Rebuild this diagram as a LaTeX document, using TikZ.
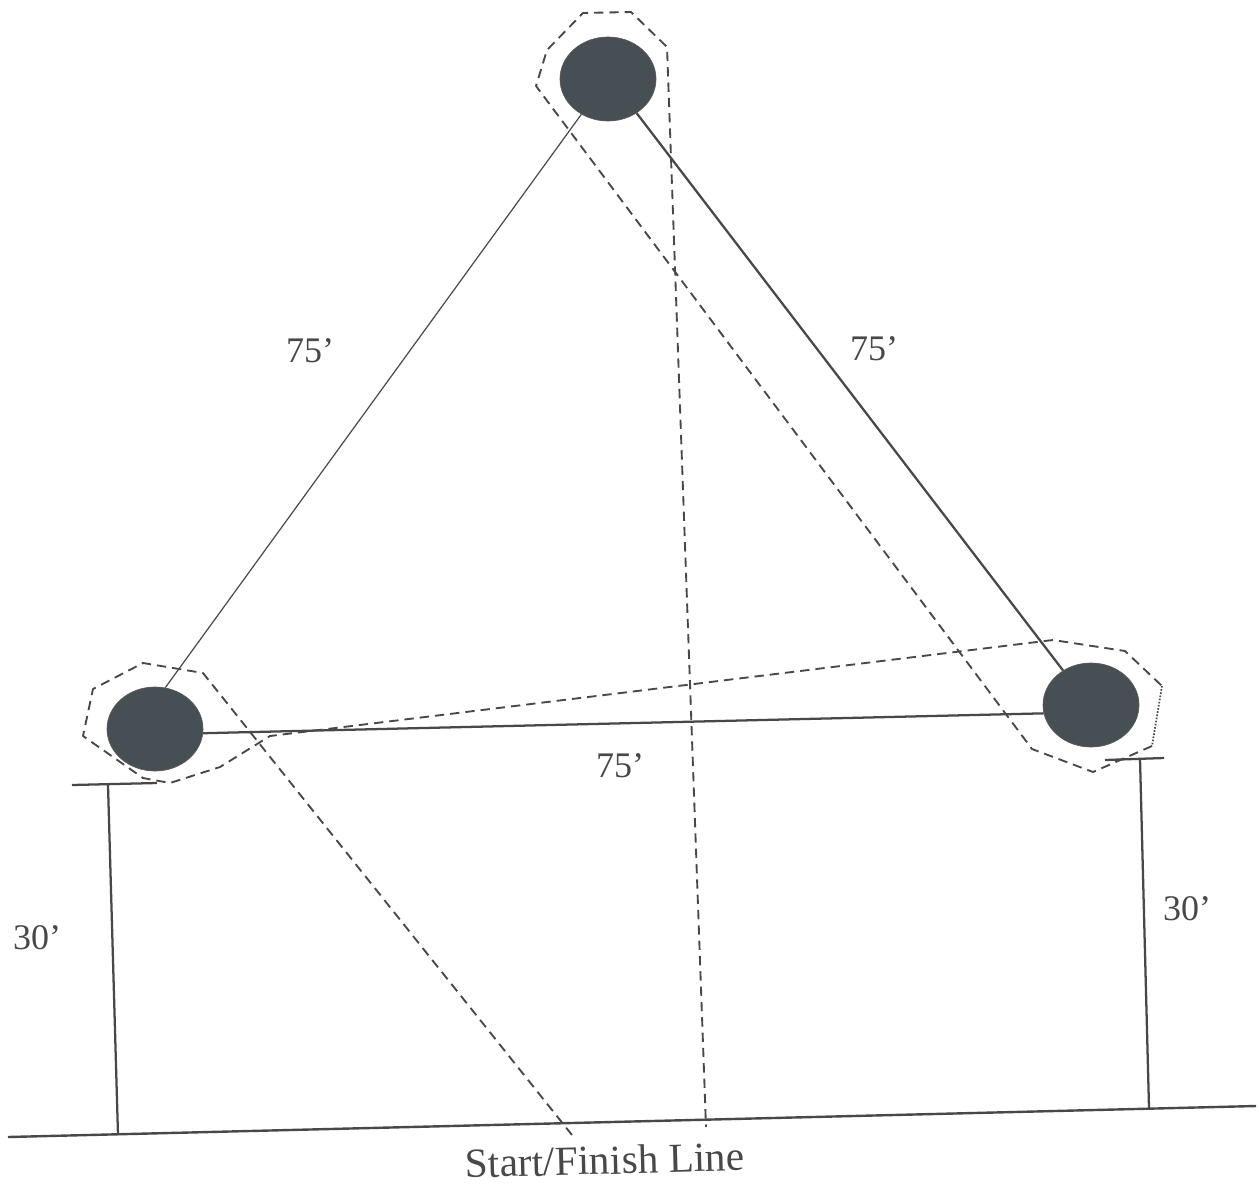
\documentclass[tikz,border=0pt]{standalone}
\usepackage{fontspec}
\setmainfont{Liberation Serif}
\usetikzlibrary{shapes.geometric}
\definecolor{ink}{HTML}{484848}
\definecolor{disc}{HTML}{465054}
\tikzset{
  cone/.style={shape=ellipse,fill=disc,draw=disc!80!brown,line width=0.5pt,minimum width=72pt,minimum height=63pt,inner sep=0pt},
  thinline/.style={draw=ink,line width=0.9pt},
  midline/.style={draw=ink,line width=1.7pt},
  solidline/.style={draw=ink,line width=1.8pt},
  course/.style={draw=ink,line width=1.4pt,dash pattern=on 7pt off 4.5pt,line join=round},
  courselight/.style={draw=ink,line width=1.3pt,dash pattern=on 1.2pt off 1.2pt},
  dim/.style={text=ink,font=\fontsize{27pt}{30pt}\selectfont,inner sep=0pt}
}
\begin{document}
\begin{tikzpicture}[x=0.75pt,y=-0.75pt]
\useasboundingbox (0,0) rectangle (1259,1185);
% dashed course
\coordinate (c1) at (572,1135);
\coordinate (c2) at (203,673);
\coordinate (c3) at (143,663);
\coordinate (c4) at (93,689);
\coordinate (c5) at (83,736);
\coordinate (c6) at (143,778);
\coordinate (c7) at (170,783);
\coordinate (c8) at (220,767);
\coordinate (c9) at (270,736);
\coordinate (c10) at (1053,640);
\coordinate (c11) at (1125,651);
\coordinate (c12) at (1162,686);
\coordinate (c13) at (1152,746);
\coordinate (c14) at (1093,772);
\coordinate (c15) at (1032,749);
\coordinate (c16) at (536,86);
\coordinate (c17) at (547,50);
\coordinate (c18) at (583,13);
\coordinate (c19) at (631,12);
\coordinate (c20) at (667,47);
\coordinate (c21) at (706,1127);
\draw[course] (c1) -- (c2) -- (c3) -- (c4) -- (c5) -- (c6) -- (c7) -- (c8) -- (c9) -- (c10) -- (c11) -- (c12);
\draw[courselight] (c12) -- (c13);
\draw[course] (c13) -- (c14) -- (c15) -- (c16) -- (c17) -- (c18) -- (c19) -- (c20) -- (c21);
% cones
\node[cone] (top) at (608,79) {};
\node[cone] (left) at (155,729) {};
\node[cone] (right) at (1091,705) {};
% triangle
\draw[thinline] (top.233) -- (left.76);
\draw[midline] (top.-50) -- (right.129);
\draw[midline] (left.-5) -- (right.190);
% start line and offsets
\coordinate (s1) at (8,1137);
\coordinate (s2) at (1256,1106);
\draw[solidline] (s1) -- (s2);
\coordinate (t1) at (72,785);
\coordinate (t2) at (157,783);
\coordinate (t3) at (1105,760);
\coordinate (t4) at (1164,758);
\draw[midline] (t1) -- (t2);
\draw[midline] (t3) -- (t4);
\coordinate (v1) at (108,785);
\coordinate (v2) at (118,1135);
\coordinate (v3) at (1140,759);
\coordinate (v4) at (1149,1108);
\draw[midline] (v1) -- (v2);
\draw[midline] (v3) -- (v4);
% labels
\node[dim] (a) at (310,351) {75’};
\node[dim] (b) at (874,349) {75’};
\node[dim] (c) at (620,766) {75’};
\node[dim] (d) at (37,938) {30’};
\node[dim] (e) at (1187,909) {30’};
\node[dim,font=\fontsize{31pt}{33pt}\selectfont,rotate=1.5] (f) at (605,1160) {Start/Finish Line};
\end{tikzpicture}
\end{document}
